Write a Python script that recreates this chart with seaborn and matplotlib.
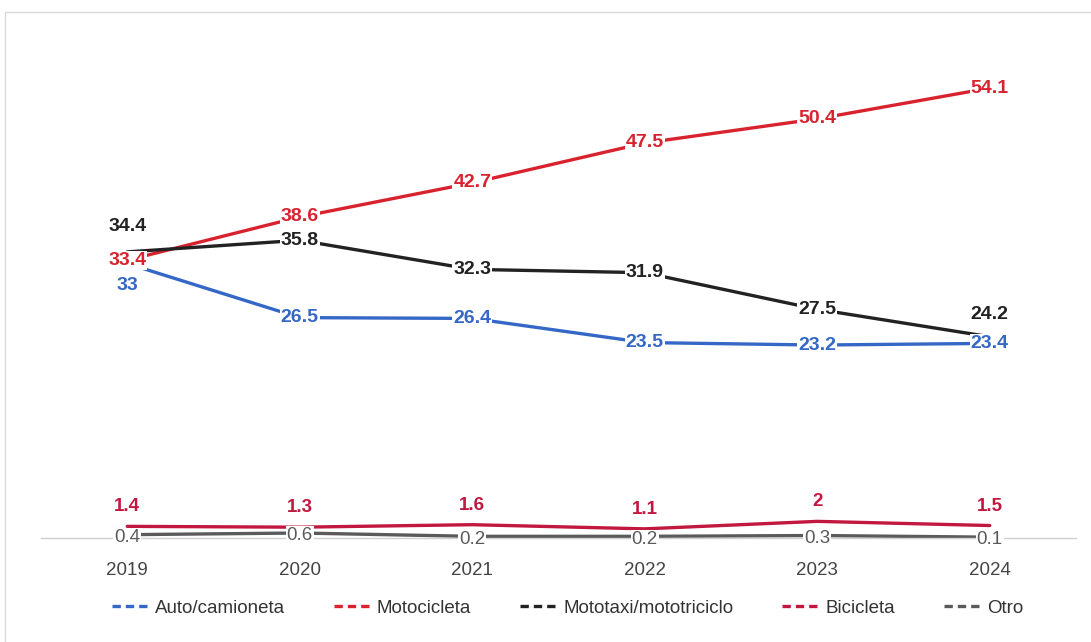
import matplotlib
matplotlib.use("Agg")
import matplotlib.pyplot as plt
from matplotlib.lines import Line2D
from matplotlib.patches import Rectangle
import seaborn as sns
import pandas as pd

years = ["2019", "2020", "2021", "2022", "2023", "2024"]
auto = [33, 26.5, 26.4, 23.5, 23.2, 23.4]
moto = [33.4, 38.6, 42.7, 47.5, 50.4, 54.1]
mototaxi = [34.4, 35.8, 32.3, 31.9, 27.5, 24.2]
bici = [1.4, 1.3, 1.6, 1.1, 2, 1.5]
otro = [0.4, 0.6, 0.2, 0.2, 0.3, 0.1]

series = ["Auto/camioneta", "Motocicleta", "Mototaxi/mototriciclo", "Bicicleta", "Otro"]
values = [auto, moto, mototaxi, bici, otro]
colors = ["#3568C6", "#D8232F", "#222222", "#C2183F", "#5A5A5A"]

rows = []
for name, vals in zip(series, values):
    for i, (yr, v) in enumerate(zip(years, vals)):
        rows.append({"idx": i, "year": yr, "serie": name, "valor": v})
df = pd.DataFrame(rows)

sns.set_theme(style="white")
plt.rcParams["font.family"] = ["Liberation Sans", "DejaVu Sans"]

fig = plt.figure(figsize=(10.91, 6.42), dpi=100)
ax = fig.add_axes([41 / 1091, (642 - 538) / 642, (1076 - 41) / 1091, 499 / 642])

sns.lineplot(data=df, x="idx", y="valor", hue="serie", hue_order=series,
             palette=colors, linewidth=2.4, legend=False, ax=ax, zorder=2)

ax.set_xlim(-0.5, 5.5)
ax.set_ylim(0, 60)
ax.set_xticks(range(len(years)))
ax.set_xticklabels(years, fontsize=13.5, color="#444444")
ax.tick_params(axis="x", length=0, pad=17)
ax.set_yticks([])
ax.set_xlabel("")
ax.set_ylabel("")
for s in ["top", "left", "right"]:
    ax.spines[s].set_visible(False)
ax.spines["bottom"].set_color("#D0D0D0")
ax.spines["bottom"].set_linewidth(1.0)

# vertical offsets (points) for labels that sit above or below their point
offsets = {
    ("Mototaxi/mototriciclo", 0): 18,
    ("Mototaxi/mototriciclo", 5): 16,
    ("Auto/camioneta", 0): -16,
}
for name, vals, col in zip(series, values, colors):
    for i, v in enumerate(vals):
        dy = offsets.get((name, i), 0)
        size, weight = 14, "bold"
        if name == "Bicicleta":
            dy = 14
            size = 13.5
        if name == "Otro":
            dy = -2
            size, weight = 13.5, "normal"
        txt = f"{v:g}"
        ax.annotate(txt, (i, v), xytext=(0, dy), textcoords="offset points",
                    ha="center", va="center", fontsize=size, fontweight=weight,
                    color=col, zorder=5,
                    bbox=dict(boxstyle="square,pad=0.05", fc="white", ec="none"))

handles = [Line2D([0], [0], color=c, lw=2.4, linestyle=(0, (2.5, 1.5))) for c in colors]
fig.legend(handles, series, loc="center", bbox_to_anchor=(0.52, (642 - 608) / 642),
           ncol=5, frameon=False, fontsize=13.5, handlelength=2.0, handletextpad=0.3,
           columnspacing=2.6, labelcolor="#333333")

fig.add_artist(Rectangle((5 / 1091, -0.01), 1.0, 1 - 12 / 642 + 0.01, transform=fig.transFigure,
                         fill=False, ec="#DADADA", lw=1.0))

fig.savefig("out.png", dpi=100)
